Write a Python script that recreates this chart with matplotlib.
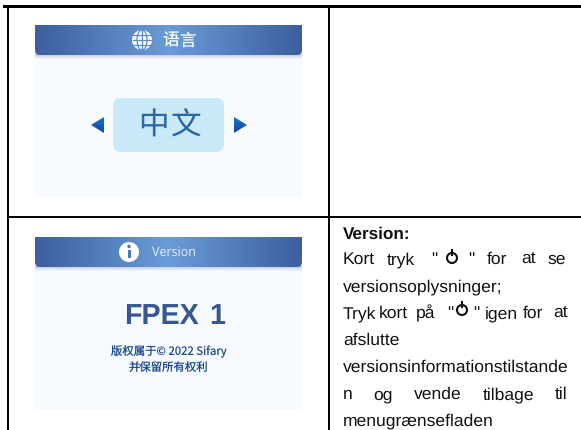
import numpy as np
import matplotlib
matplotlib.use("Agg")
import matplotlib.pyplot as plt
from matplotlib.patches import Circle, Ellipse, FancyBboxPatch, Polygon, Rectangle

plt.rcParams["text.hinting"] = "no_hinting"

# text of the right hand cell, word and left edge in pixels
heading = "Version:"
heading_y = 239
line_y = [264, 291, 318, 345, 372, 399, 425]
line_words = [
    [("Kort", 343), ("tryk", 387), ('"', 431), ('"', 468), ("for", 487), ("at", 521), ("se", 548)],
    [("versionsoplysninger;", 343)],
    [("Tryk", 343), ("kort", 379), ("på", 416), ('"', 447), ('"', 473), ("igen", 485), ("for", 523), ("at", 553)],
    [("afslutte", 343)],
    [("versionsinformationstilstande", 343)],
    [("n", 343), ("og", 373), ("vende", 414), ("tilbage", 483), ("til", 555)],
    [("menugrænsefladen", 343)],
]
power_icons = [(452, 258), (462, 310)]

language_title = "语言"
language_value = "中文"
version_title = "Version"
product_words = [("FPEX", 124), ("1", 209)]
copyright_lines = ["版权属于© 2022 Sifary", "并保留所有权利"]

grid_h = [(3, 581, 6.3, 2.6), (7, 581, 217, 2.2)]
grid_v = [(8.3, 6, 430), (329, 6, 430)]

fig = plt.figure(figsize=(5.81, 4.30), dpi=100)
ax = fig.add_axes([0, 0, 1, 1])
ax.set_xlim(0, 581)
ax.set_ylim(430, 0)
ax.axis("off")

edge = np.array([0x3d, 0x5f, 0x9e]) / 255
mid = np.array([0x6a, 0x9c, 0xd8]) / 255
body = np.array([0xf7, 0xfa, 0xff]) / 255
shade = np.array([0xb4, 0xc4, 0xde]) / 255


def gradient_patch(patch, extent, horizontal=True, c0=edge, c1=mid, z=3):
    ax.add_patch(patch)
    patch.set_facecolor("none")
    patch.set_edgecolor("none")
    t = np.linspace(0, 1, 128)
    if horizontal:
        f = 1 - np.abs(2 * t - 1)
        img = (c0[None, :] * (1 - f[:, None]) + c1[None, :] * f[:, None])[None, :, :]
    else:
        img = (c0[None, :] * (1 - t[:, None]) + c1[None, :] * t[:, None])[:, None, :]
    im = ax.imshow(img, extent=extent, aspect="auto", interpolation="bilinear", zorder=z)
    im.set_clip_path(patch)
    ax.set_xlim(0, 581)
    ax.set_ylim(430, 0)


def panel(top):
    ax.add_patch(Rectangle((35, top), 267, 173, fc="#f7faff", ec="none", zorder=1))
    gradient_patch(Rectangle((35, top + 29), 267, 5), (35, 302, top + 34, top + 29), False, shade, body, z=2)
    header = FancyBboxPatch((35, top - 10), 267, 40, boxstyle="round,pad=0,rounding_size=5")
    gradient_patch(header, (35, 302, top + 31, top))
    ax.add_patch(Rectangle((30, top - 11), 280, 11, fc="white", ec="none", zorder=4))


panel(25)
panel(237)

# language screen
ax.add_patch(FancyBboxPatch((113, 98), 111, 54, boxstyle="round,pad=0,rounding_size=8",
                            fc="#c9e9f9", ec="none", zorder=2))
arrow_top = np.array([0x17, 0x72, 0xd0]) / 255
arrow_bot = np.array([0x12, 0x4a, 0x9a]) / 255
gradient_patch(Polygon([(91, 125), (104, 117), (104, 133)]), (91, 104, 133, 117), False, arrow_top, arrow_bot)
gradient_patch(Polygon([(234, 117), (247, 125), (234, 133)]), (234, 247, 133, 117), False, arrow_top, arrow_bot)
ax.text(153, 126, language_value[0], family="Noto Sans CJK SC", fontsize=22, color="#2b669f",
        ha="center", va="center", zorder=5)
ax.text(186, 126, language_value[1], family="Noto Sans CJK SC", fontsize=22, color="#2b669f",
        ha="center", va="center", zorder=5)
ax.text(170.5, 40.5, language_title[0], family="Noto Sans CJK SC", fontsize=12, color="white",
        ha="center", va="center", zorder=5)
ax.text(188, 40.5, language_title[1], family="Noto Sans CJK SC", fontsize=12, color="white",
        ha="center", va="center", zorder=5)

# globe
ax.add_patch(Circle((142, 40), 10, fc="white", ec="none", zorder=5))
ax.add_patch(Ellipse((142, 40), 10, 20, fc="none", ec="#5b8ac6", lw=0.9, zorder=6))
ax.plot([142, 142], [30, 50], color="#5b8ac6", lw=0.9, zorder=6)
for off in (-5, 0, 5):
    ax.plot([132.5, 151.5], [40 + off, 40 + off], color="#5b8ac6", lw=0.9, zorder=6)

# version screen
ax.add_patch(Circle((129, 252), 10, fc="white", ec="none", zorder=5))
ax.add_patch(Rectangle((127.5, 250), 3, 8, fc="#4b78b4", ec="none", zorder=6))
ax.add_patch(Circle((129, 246.5), 1.7, fc="#4b78b4", ec="none", zorder=6))
ax.text(173.5, 252, version_title, family="Open Sans", fontsize=9, color="#e8eff8",
        ha="center", va="center", zorder=5)
for word, x in product_words:
    ax.text(x, 324, word, family="Liberation Sans", fontweight="bold", fontsize=20.6,
            color="#36578f", ha="left", va="baseline", zorder=5)
ax.text(168.5, 352, copyright_lines[0], family=["Noto Sans CJK SC", "DejaVu Sans"], fontsize=8.2,
        color="#1c4a8a", ha="center", va="center", zorder=5)
ax.text(168.5, 368, copyright_lines[1], family="Noto Sans CJK SC", fontsize=8.2,
        color="#1c4a8a", ha="center", va="center", zorder=5)

# table rules
for x0, x1, y, w in grid_h:
    ax.add_patch(Rectangle((x0, y - w / 2), x1 - x0, w, fc="black", ec="none", zorder=7))
for x, y0, y1 in grid_v:
    ax.add_patch(Rectangle((x - 1, y0), 2, y1 - y0, fc="black", ec="none", zorder=7))

# right cell text
ax.text(343, heading_y, heading, family="Liberation Sans", fontweight="bold", fontsize=12.3,
        color="#111111", ha="left", va="baseline")
for y, words in zip(line_y, line_words):
    for word, x in words:
        ax.text(x, y, word, family="Liberation Sans", fontsize=12.6, color="#111111",
                ha="left", va="baseline")

for x, y in power_icons:
    ax.add_patch(Circle((x, y), 5, fc="none", ec="#111111", lw=1.5, zorder=6))
    ax.plot([x, x], [y - 8, y - 3], color="#111111", lw=1.5, zorder=7)

fig.savefig("out.png", dpi=100)
